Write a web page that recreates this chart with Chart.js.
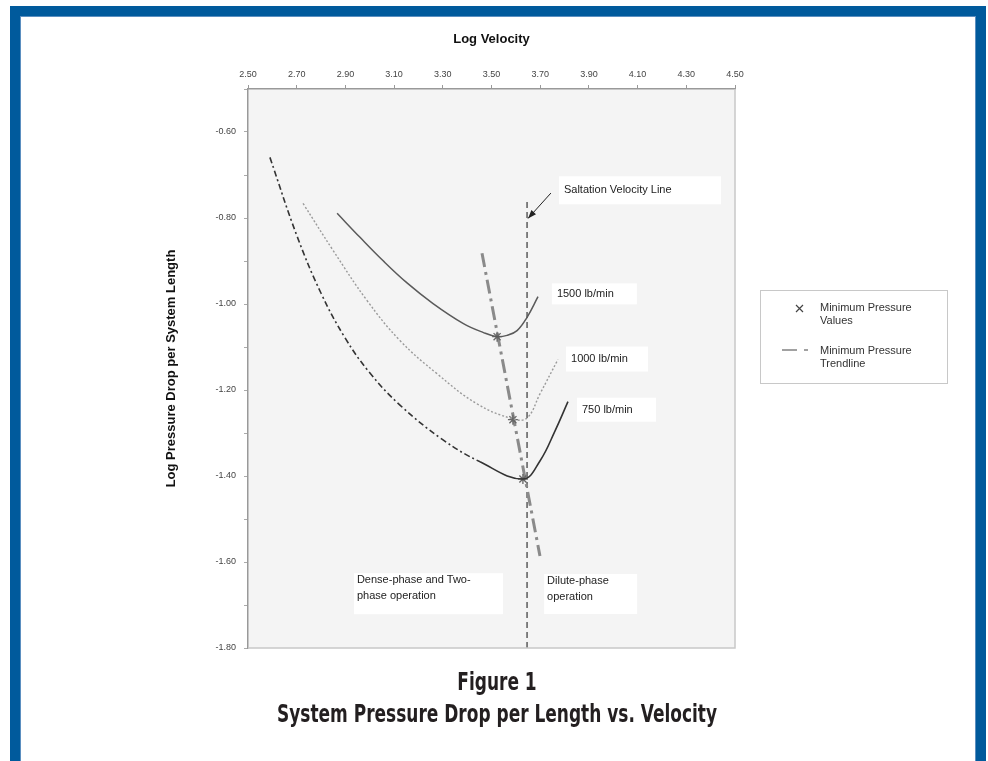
<!DOCTYPE html>
<html>
<head>
<meta charset="utf-8">
<script src="https://cdn.jsdelivr.net/npm/chart.js@4"></script>
<style>
  body { margin: 0; background: #fff; }
  #frame {
    position: absolute; left: 10px; top: 6px;
    width: 956px; height: 752px;
    border: 10px solid #005a9c;
    box-shadow: inset 0 0 0 1px #5b8fc0;
  }
  #chart { position: absolute; left: 0; top: 0; }
</style>
</head>
<body>
<div id="frame"></div>
<canvas id="chart" width="988" height="761"></canvas>
<script>
// tick labels
const xTickValues = [2.50, 2.70, 2.90, 3.10, 3.30, 3.50, 3.70, 3.90, 4.10, 4.30, 4.50];
const yTickValues = [-1.80, -1.70, -1.60, -1.50, -1.40, -1.30, -1.20, -1.10, -1.00, -0.90, -0.80, -0.70, -0.60, -0.50];

// 1500 lb/min
const vel1500 = [2.866, 2.960, 3.054, 3.153, 3.260, 3.383, 3.465, 3.523, 3.564, 3.605, 3.646, 3.691];
const dp1500  = [-0.789, -0.845, -0.899, -0.951, -0.999, -1.045, -1.066, -1.076, -1.073, -1.062, -1.031, -0.983];

// 1000 lb/min
const vel1000 = [2.726, 2.849, 2.989, 3.124, 3.276, 3.440, 3.588, 3.646, 3.699, 3.773];
const dp1000  = [-0.766, -0.875, -0.992, -1.085, -1.162, -1.232, -1.267, -1.265, -1.209, -1.129];

// 750 lb/min
const vel750 = [2.590, 2.700, 2.800, 2.900, 3.000, 3.124, 3.301, 3.453, 3.629, 3.699, 3.761, 3.814];
const dp750  = [-0.659, -0.840, -0.975, -1.080, -1.160, -1.235, -1.316, -1.367, -1.407, -1.365, -1.295, -1.227];

// minimum pressure values
const velMin = [3.523, 3.588, 3.629];
const dpMin  = [-1.076, -1.269, -1.407];

// trendline + saltation line
const velTrend = [3.461, 3.699];
const dpTrend  = [-0.882, -1.586];
const velSalt  = [3.646, 3.646];
const dpSalt   = [-0.763, -1.80];

function punti(xs, ys) {
    return xs.map((x, i) => ({ x: x, y: ys[i] }));
}

// testi dentro il grafico (angolo in alto a sinistra in coordinate dati)
const etichette = [
    { x: 3.777, y: -0.703, w: 162, h: 28, righe: ['Saltation Velocity Line'] },
    { x: 3.748, y: -0.952, w: 85, h: 21, righe: ['1500 lb/min'] },
    { x: 3.806, y: -1.099, w: 82, h: 25, righe: ['1000 lb/min'] },
    { x: 3.851, y: -1.218, w: 79, h: 24, righe: ['750 lb/min'] },
    { x: 2.935, y: -1.626, w: 149, h: 41, righe: ['Dense-phase and Two-', 'phase operation'] },
    { x: 3.716, y: -1.628, w: 93, h: 40, righe: ['Dilute-phase', 'operation'] }
];
const freccia = { x0: 3.744, y0: -0.742, x1: 3.650, y1: -0.801 };

// testo condensato centrato
function testoStretto(ctx, testo, x, y, scala) {
    ctx.save();
    ctx.translate(x, y);
    ctx.scale(scala, 1);
    ctx.fillText(testo, 0, 0);
    ctx.restore();
}

const extra = {
    id: 'extra',
    beforeDraw(chart) {
        const { ctx, chartArea: a } = chart;
        ctx.save();
        ctx.fillStyle = '#f4f4f4';
        ctx.fillRect(a.left, a.top, a.right - a.left, a.bottom - a.top);
        ctx.restore();
    },
    afterDraw(chart) {
        const { ctx, chartArea: a } = chart;
        const sx = chart.scales.x, sy = chart.scales.y;
        ctx.save();
        // bordo area
        ctx.strokeStyle = '#c8c8c8';
        ctx.lineWidth = 1.5;
        ctx.beginPath();
        ctx.moveTo(a.right, a.top);
        ctx.lineTo(a.right, a.bottom);
        ctx.lineTo(a.left, a.bottom);
        ctx.stroke();

        // box di testo
        ctx.font = '11px "Liberation Sans", Arial, sans-serif';
        ctx.textBaseline = 'middle';
        etichette.forEach(e => {
            const px = sx.getPixelForValue(e.x), py = sy.getPixelForValue(e.y);
            ctx.fillStyle = '#fff';
            ctx.fillRect(px, py, e.w, e.h);
            ctx.fillStyle = '#222';
            if (e.righe.length === 1) {
                ctx.fillText(e.righe[0], px + 5, py + e.h / 2);
            } else {
                e.righe.forEach((r, i) => ctx.fillText(r, px + 3, py + 7 + i * 16));
            }
        });

        // freccia
        const x0 = sx.getPixelForValue(freccia.x0), y0 = sy.getPixelForValue(freccia.y0);
        const x1 = sx.getPixelForValue(freccia.x1), y1 = sy.getPixelForValue(freccia.y1);
        ctx.strokeStyle = '#222';
        ctx.fillStyle = '#222';
        ctx.lineWidth = 1;
        ctx.beginPath();
        ctx.moveTo(x0, y0);
        ctx.lineTo(x1, y1);
        ctx.stroke();
        const ang = Math.atan2(y1 - y0, x1 - x0);
        ctx.beginPath();
        ctx.moveTo(x1, y1);
        ctx.lineTo(x1 - 9 * Math.cos(ang - 0.35), y1 - 9 * Math.sin(ang - 0.35));
        ctx.lineTo(x1 - 9 * Math.cos(ang + 0.35), y1 - 9 * Math.sin(ang + 0.35));
        ctx.closePath();
        ctx.fill();

        // legenda
        ctx.fillStyle = '#fff';
        ctx.fillRect(760, 290, 187, 93);
        ctx.strokeStyle = '#c8c8c8';
        ctx.strokeRect(760.5, 290.5, 187, 93);
        ctx.fillStyle = '#333';
        ctx.font = '11px "Liberation Sans", Arial, sans-serif';
        ctx.fillText('Minimum Pressure', 820, 308);
        ctx.fillText('Values', 820, 321);
        ctx.fillText('Minimum Pressure', 820, 351);
        ctx.fillText('Trendline', 820, 364);
        ctx.strokeStyle = '#444';
        ctx.lineWidth = 1.2;
        ctx.beginPath();
        ctx.moveTo(796, 305); ctx.lineTo(803, 312);
        ctx.moveTo(803, 305); ctx.lineTo(796, 312);
        ctx.stroke();
        ctx.lineWidth = 1.2;
        ctx.beginPath();
        ctx.moveTo(782, 350); ctx.lineTo(797, 350);
        ctx.moveTo(804, 350); ctx.lineTo(808, 350);
        ctx.stroke();

        // didascalia
        ctx.fillStyle = '#231f20';
        ctx.textAlign = 'center';
        ctx.font = 'bold 25px "DejaVu Sans Condensed", "Liberation Sans", sans-serif';
        const riga2 = 'System Pressure Drop per Length vs. Velocity';
        const scala = 440 / ctx.measureText(riga2).width;
        testoStretto(ctx, 'Figure 1', 497, 683, scala);
        testoStretto(ctx, riga2, 497, 715, scala);
        ctx.restore();
    }
};

const ctx = document.getElementById('chart').getContext('2d');
new Chart(ctx, {
    type: 'line',
    data: {
        datasets: [
            {
                label: '1500 lb/min',
                data: punti(vel1500, dp1500),
                borderColor: '#5a5a5a',
                borderWidth: 1.5,
                pointRadius: 0,
                tension: 0.4
            },
            {
                label: '1000 lb/min',
                data: punti(vel1000, dp1000),
                borderColor: '#9a9a9a',
                borderWidth: 1.4,
                borderDash: [2, 2],
                pointRadius: 0,
                tension: 0.4
            },
            {
                label: '750 lb/min',
                data: punti(vel750, dp750),
                borderColor: '#333',
                borderWidth: 1.6,
                pointRadius: 0,
                tension: 0.4,
                segment: {
                    borderDash: c => c.p0.parsed.x < 3.4 ? [6, 3, 2, 3] : undefined
                }
            },
            {
                label: 'Minimum Pressure Values',
                data: punti(velMin, dpMin),
                showLine: false,
                pointStyle: 'star',
                pointRadius: 5,
                pointBorderColor: '#666',
                pointBorderWidth: 1.3
            },
            {
                label: 'Minimum Pressure Trendline',
                data: punti(velTrend, dpTrend),
                borderColor: '#8a8a8a',
                borderWidth: 3,
                borderDash: [14, 5, 3, 5],
                pointRadius: 0
            },
            {
                label: 'Saltation Velocity Line',
                data: punti(velSalt, dpSalt),
                borderColor: '#444',
                borderWidth: 1.3,
                borderDash: [6, 4],
                pointRadius: 0
            }
        ]
    },
    options: {
        responsive: false,
        animation: false,
        layout: { padding: { left: 160, top: 28, right: 253, bottom: 113 } },
        plugins: {
            legend: { display: false },
            tooltip: { enabled: false }
        },
        scales: {
            x: {
                type: 'linear',
                position: 'top',
                min: 2.5,
                max: 4.5,
                afterBuildTicks: s => { s.ticks = xTickValues.map(v => ({ value: v })); },
                afterFit: s => { s.height = 61; },
                title: {
                    display: true,
                    text: 'Log Velocity',
                    color: '#111',
                    font: { family: '"Liberation Sans", Arial', size: 13, weight: 'bold' },
                    padding: { top: 4, bottom: 0 }
                },
                grid: { drawOnChartArea: false, tickLength: 4, color: '#999' },
                border: { color: '#999', width: 1.5 },
                ticks: {
                    maxRotation: 0,
                    padding: 5,
                    color: '#444',
                    font: { family: '"Liberation Sans", Arial', size: 9 },
                    callback: v => v.toFixed(2)
                }
            },
            y: {
                type: 'linear',
                min: -1.8,
                max: -0.5,
                afterBuildTicks: s => { s.ticks = yTickValues.map(v => ({ value: v })); },
                afterFit: s => { s.width = 88; },
                title: {
                    display: true,
                    text: 'Log Pressure Drop per System Length',
                    color: '#111',
                    font: { family: '"Liberation Sans", Arial', size: 13, weight: 'bold' },
                    padding: { top: 4, bottom: 0 }
                },
                grid: { drawOnChartArea: false, tickLength: 4, color: '#aaa' },
                border: { color: '#999', width: 1.5 },
                ticks: {
                    padding: 8,
                    color: '#444',
                    autoSkip: false,
                    font: { family: '"Liberation Sans", Arial', size: 9 },
                    callback: v => (Math.abs(Math.round(v * 10)) % 2 === 0 ? v.toFixed(2) : '')
                }
            }
        }
    },
    plugins: [extra]
});
</script>
</body>
</html>
